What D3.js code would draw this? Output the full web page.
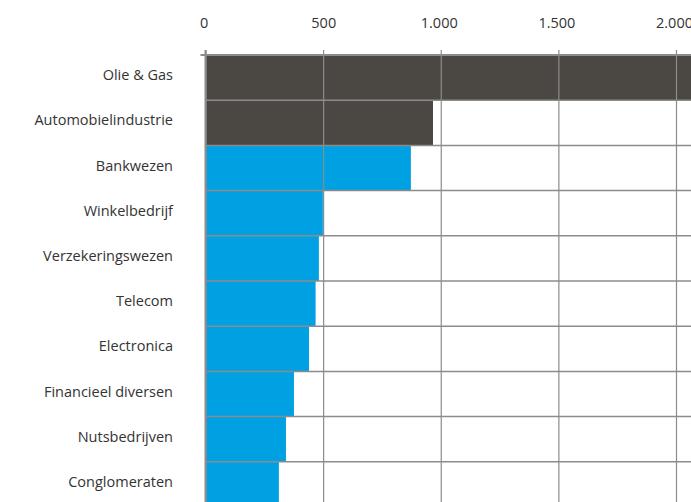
<!DOCTYPE html>
<html>
<head>
<meta charset="utf-8">
<script src="https://cdn.jsdelivr.net/npm/d3@7"></script>
<style>
  html, body { margin: 0; padding: 0; background: #fff; }
  svg { display: block; }
  text { font-family: "Open Sans", "Noto Sans", sans-serif; fill: #333; }
</style>
</head>
<body>
<svg id="chart" width="691" height="502"></svg>
<script>
// Sectors and their values
const categories = [
  "Olie & Gas", "Automobielindustrie", "Bankwezen", "Winkelbedrijf",
  "Verzekeringswezen", "Telecom", "Electronica", "Financieel diversen",
  "Nutsbedrijven", "Conglomeraten"
];
const values = [2200, 967, 873, 499, 482, 468, 440, 376, 342, 312];
const highlighted = ["Olie & Gas", "Automobielindustrie"];
const tickValues = [0, 500, 1000, 1500, 2000];

const W = 691, H = 502;
const plotLeft = 205.5, plotTop = 55, rowStep = 45.2;
const svg = d3.select("#chart");

const nl = d3.formatLocale({ decimal: ",", thousands: ".", grouping: [3], currency: ["€ ", ""] });
const fmt = nl.format(",d");

const x = d3.scaleLinear().domain([0, 2000]).range([plotLeft, 676]);
const y = d3.scaleBand().domain(categories).range([plotTop, plotTop + rowStep * categories.length]).padding(0);

const data = categories.map((c, i) => ({ c, v: values[i] }));

// bars
svg.append("g").selectAll("rect").data(data).join("rect")
  .attr("x", x(0))
  .attr("y", d => y(d.c))
  .attr("width", d => x(d.v) - x(0))
  .attr("height", y.bandwidth())
  .attr("fill", d => highlighted.includes(d.c) ? "#4b4742" : "#00a1e2");

// horizontal separators between bands
svg.append("g").selectAll("line").data(categories).join("line")
  .attr("x1", (d, i) => i === 0 ? x(0) - 5 : x(0))
  .attr("x2", W)
  .attr("y1", d => y(d)).attr("y2", d => y(d))
  .attr("stroke", "#8c8c8c")
  .attr("stroke-width", (d, i) => i === 0 ? 2 : 1.5);

// top axis with vertical grid lines through the plot
const axis = d3.axisTop(x).tickValues(tickValues).tickFormat(fmt).tickSizeOuter(0);
const gAxis = svg.append("g").attr("transform", `translate(0,${plotTop})`).call(axis);
gAxis.select(".domain").remove();
gAxis.selectAll(".tick line")
  .attr("y1", -5).attr("y2", H - plotTop)
  .attr("stroke", "#8c8c8c").attr("stroke-width", 1.2);
gAxis.selectAll(".tick text")
  .attr("y", -27)
  .attr("dy", 0)
  .attr("font-size", 14.5)
  .attr("text-anchor", "start")
  .attr("dx", d => d === 0 ? -6 : -(fmt(d).length * 4.1))
  .style("font-family", "'Open Sans', 'Noto Sans', sans-serif")
  .attr("fill", "#333");

// left baseline
svg.append("line")
  .attr("x1", x(0)).attr("x2", x(0))
  .attr("y1", plotTop - 5).attr("y2", H)
  .attr("stroke", "#8c8c8c").attr("stroke-width", 2);

// category labels
svg.append("g").selectAll("text").data(categories).join("text")
  .attr("x", 173)
  .attr("y", d => y(d) + y.bandwidth() / 2 - 2.5)
  .attr("dy", "0.35em")
  .attr("text-anchor", "end")
  .attr("font-size", 14.5)
  .text(d => d);
</script>
</body>
</html>
